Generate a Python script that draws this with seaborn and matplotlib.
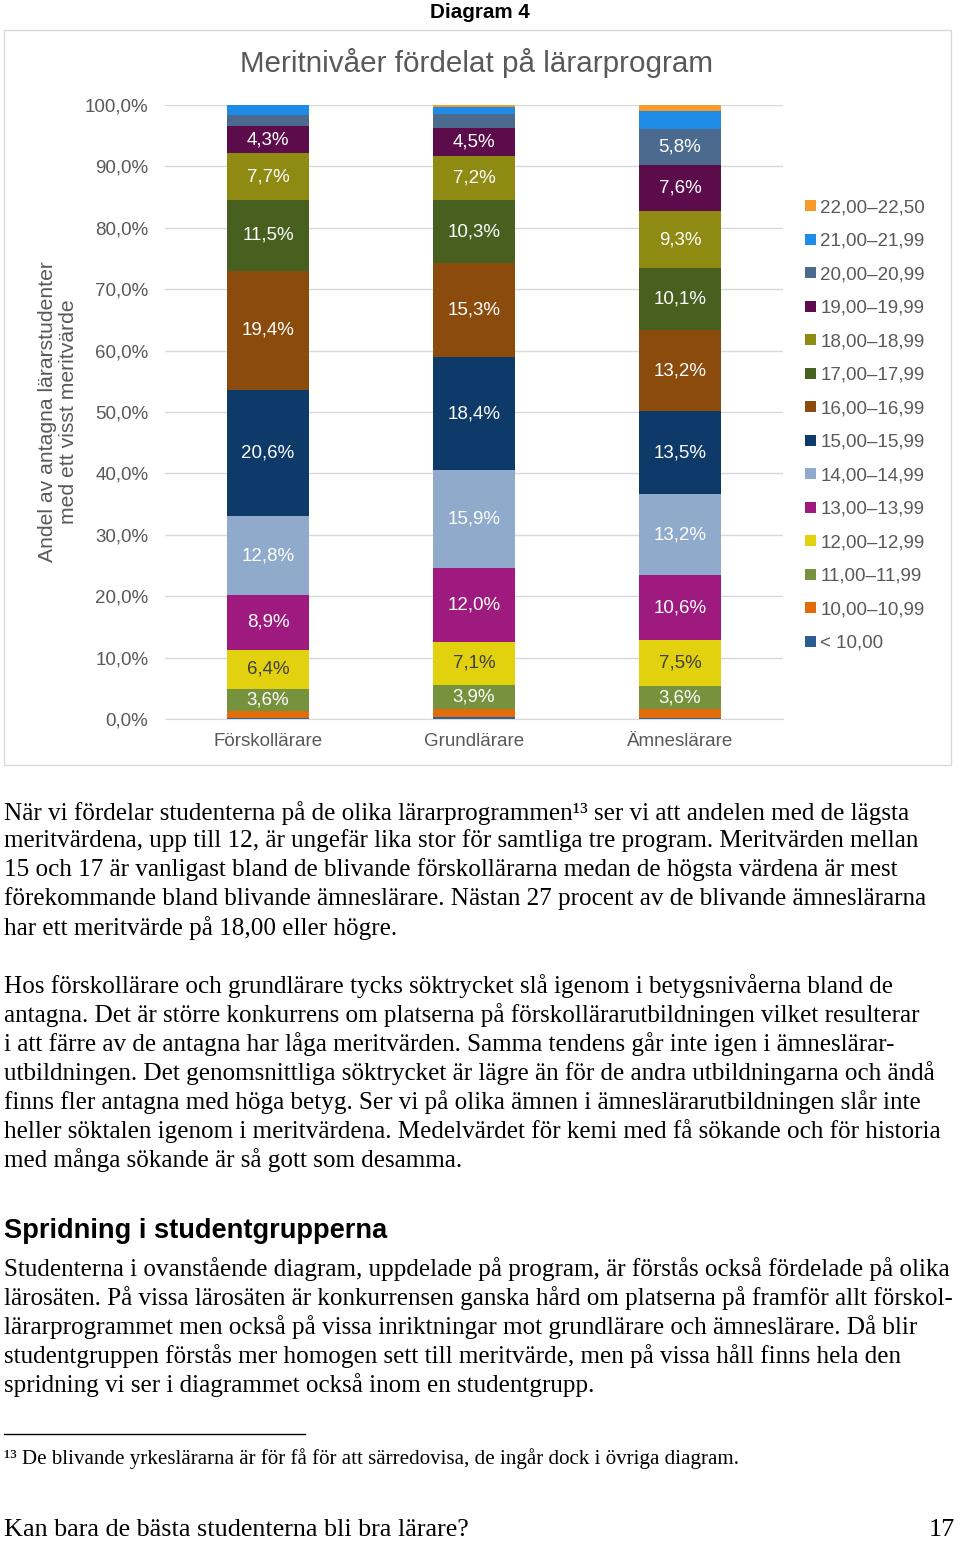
import numpy as np
import pandas as pd
import matplotlib
matplotlib.use("Agg")
import matplotlib.pyplot as plt
import seaborn as sns
from matplotlib.patches import Rectangle
from matplotlib.lines import Line2D
from matplotlib.colors import to_rgba

# ---------------- data ----------------
programs = ["Förskollärare", "Grundlärare", "Ämneslärare"]
levels = ["< 10,00", "10,00–10,99", "11,00–11,99", "12,00–12,99", "13,00–13,99",
          "14,00–14,99", "15,00–15,99", "16,00–16,99", "17,00–17,99", "18,00–18,99",
          "19,00–19,99", "20,00–20,99", "21,00–21,99", "22,00–22,50"]
forskollarare = [0.2, 1.1, 3.6, 6.4, 8.9, 12.8, 20.6, 19.4, 11.5, 7.7, 4.3, 1.9, 1.6, 0.0]
grundlarare = [0.3, 1.3, 3.9, 7.1, 12.0, 15.9, 18.4, 15.3, 10.3, 7.2, 4.5, 2.3, 1.1, 0.4]
amneslarare = [0.1, 1.6, 3.6, 7.5, 10.6, 13.2, 13.5, 13.2, 10.1, 9.3, 7.6, 5.8, 3.0, 0.9]
yticks = [0, 10, 20, 30, 40, 50, 60, 70, 80, 90, 100]
ytick_labels = ["0,0%", "10,0%", "20,0%", "30,0%", "40,0%", "50,0%", "60,0%",
                "70,0%", "80,0%", "90,0%", "100,0%"]

colors = ["#2B5D93", "#E36C0A", "#76923C", "#E2D10F", "#9E1A7E", "#8FAACB",
          "#0D3A69", "#8B4B0D", "#47601F", "#8E8A12", "#5C0C4A", "#4B6A8E",
          "#1E8BE6", "#F69A2B"]
palette = dict(zip(levels, colors))

rows = []
for prog, vals in zip(programs, [forskollarare, grundlarare, amneslarare]):
    for lev, v in zip(levels, vals):
        rows.append({"program": prog, "level": lev, "value": v})
df = pd.DataFrame(rows)

# ---------------- figure ----------------
W, H = 960, 1541
fig = plt.figure(figsize=(W / 100, H / 100), dpi=100)
fig.patch.set_facecolor("white")

def fx(px):
    return px / W

def fy(py):
    return 1 - py / H

ax_left, ax_right, ax_top, ax_bottom = 165, 783, 105, 719
ax = fig.add_axes([fx(ax_left), fy(ax_bottom), (ax_right - ax_left) / W, (ax_bottom - ax_top) / H])

grey = "#595959"
sans = "Liberation Sans"
serif = "Liberation Serif"
chart_fs = 13.5

sns.histplot(data=df, x="program", hue="level", weights="value", multiple="stack",
             discrete=True, shrink=0.4, hue_order=levels[::-1], palette=palette,
             alpha=1, linewidth=0, ax=ax, legend=True)

ax.set_xlim(-0.5, 2.5)
ax.set_ylim(0, 100)
ax.set_yticks(yticks)
ax.set_yticklabels(ytick_labels, fontsize=chart_fs, color=grey, family=sans)
ax.set_xticks(range(len(programs)))
ax.set_xticklabels(programs, fontsize=chart_fs, color=grey, family=sans)
ax.tick_params(axis="y", length=0, pad=12)
ax.tick_params(axis="x", length=0, pad=10)
ax.yaxis.grid(True, color="#D9D9D9", lw=1)
ax.xaxis.grid(False)
ax.set_axisbelow(True)
for s in ["left", "top", "right"]:
    ax.spines[s].set_visible(False)
ax.spines["bottom"].set_color("#D9D9D9")
ax.set_xlabel("")
ax.set_ylabel("Andel av antagna lärarstudenter\nmed ett visst meritvärde",
              fontsize=15.2, color=grey, family=sans, linespacing=1.15)
ax.yaxis.set_label_coords((78 - ax_left) / (ax_right - ax_left), 0.5)

# value labels
col_lookup = {tuple(np.round(to_rgba(c), 3)): lev for lev, c in palette.items()}
for cont in ax.containers:
    fc = tuple(np.round(cont.patches[0].get_facecolor(), 3))
    lev = col_lookup.get(fc)
    txt_color = "#404040" if lev == "12,00–12,99" else "white"
    labels = [("%.1f%%" % p.get_height()).replace(".", ",") if p.get_height() >= 3.5 else ""
              for p in cont.patches]
    ax.bar_label(cont, labels=labels, label_type="center", color=txt_color,
                 fontsize=chart_fs, family=sans)

# legend
sns.move_legend(ax, "upper left", bbox_to_anchor=(fx(796), fy(190)),
                bbox_transform=fig.transFigure, frameon=False, title=None,
                fontsize=chart_fs, handlelength=0.55, handleheight=0.55,
                handletextpad=0.25, labelspacing=0.88, borderpad=0)
for t in ax.get_legend().get_texts():
    t.set_color(grey)
    t.set_family(sans)

# chart frame and titles
fig.add_artist(Rectangle((fx(4), fy(765)), (951 - 4) / W, (765 - 30) / H,
                         transform=fig.transFigure, fill=False,
                         edgecolor="#D9D9D9", lw=1))
fig.text(fx(480), fy(12), "Diagram 4", ha="center", va="center", fontsize=14.9,
         fontweight="bold", family=sans, color="black")
fig.text(fx(477), fy(63), "Meritnivåer fördelat på lärarprogram", ha="center",
         va="center", fontsize=21.3, family=sans, color=grey)

# ---------------- page text ----------------
body_fs = 18.1
para = [
    (813, "När vi fördelar studenterna på de olika lärarprogrammen¹³ ser vi att andelen med de lägsta"),
    (841, "meritvärdena, upp till 12, är ungefär lika stor för samtliga tre program. Meritvärden mellan"),
    (870, "15 och 17 är vanligast bland de blivande förskollärarna medan de högsta värdena är mest"),
    (899, "förekommande bland blivande ämneslärare. Nästan 27 procent av de blivande ämneslärarna"),
    (928, "har ett meritvärde på 18,00 eller högre."),
    (986, "Hos förskollärare och grundlärare tycks söktrycket slå igenom i betygsnivåerna bland de"),
    (1015, "antagna. Det är större konkurrens om platserna på förskollärarutbildningen vilket resulterar"),
    (1044, "i att färre av de antagna har låga meritvärden. Samma tendens går inte igen i ämneslärar-"),
    (1073, "utbildningen. Det genomsnittliga söktrycket är lägre än för de andra utbildningarna och ändå"),
    (1102, "finns fler antagna med höga betyg. Ser vi på olika ämnen i ämneslärarutbildningen slår inte"),
    (1131, "heller söktalen igenom i meritvärdena. Medelvärdet för kemi med få sökande och för historia"),
    (1160, "med många sökande är så gott som desamma."),
    (1269, "Studenterna i ovanstående diagram, uppdelade på program, är förstås också fördelade på olika"),
    (1298, "lärosäten. På vissa lärosäten är konkurrensen ganska hård om platserna på framför allt förskol-"),
    (1327, "lärarprogrammet men också på vissa inriktningar mot grundlärare och ämneslärare. Då blir"),
    (1356, "studentgruppen förstås mer homogen sett till meritvärde, men på vissa håll finns hela den"),
    (1385, "spridning vi ser i diagrammet också inom en studentgrupp."),
]
for y, line in para:
    fig.text(fx(4), fy(y), line, ha="left", va="center", fontsize=body_fs,
             family=serif, color="black")

fig.text(fx(4), fy(1231), "Spridning i studentgrupperna", ha="left", va="center",
         fontsize=19.6, fontweight="bold", family=sans, color="black")

fig.add_artist(Line2D([fx(4), fx(305)], [fy(1434), fy(1434)], color="black", lw=1,
                      transform=fig.transFigure))
fig.text(fx(4), fy(1459), "¹³ De blivande yrkeslärarna är för få för att särredovisa, de ingår dock i övriga diagram.",
         ha="left", va="center", fontsize=15.1, family=serif, color="black")

fig.text(fx(4), fy(1530), "Kan bara de bästa studenterna bli bra lärare?", ha="left",
         va="center", fontsize=18.8, family=serif, color="black")
fig.text(fx(955), fy(1530), "17", ha="right", va="center", fontsize=18.8,
         family=serif, color="black")

fig.savefig("out.png", dpi=100)
